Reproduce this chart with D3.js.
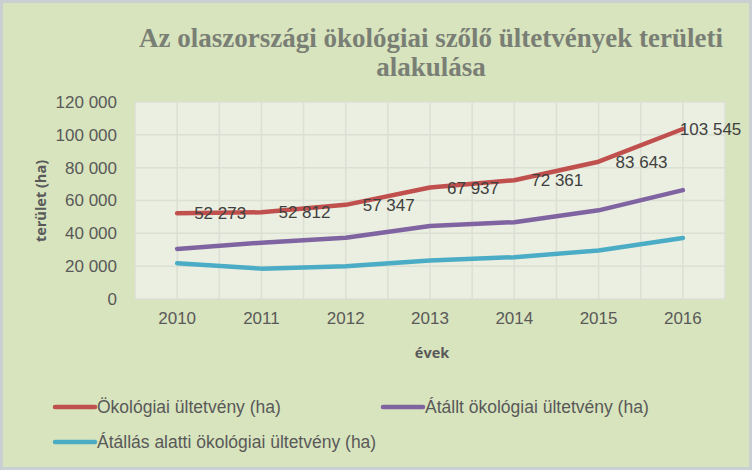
<!DOCTYPE html>
<html><head><meta charset="utf-8">
<script src="https://cdn.jsdelivr.net/npm/d3@7"></script>
<style>
html,body{margin:0;padding:0;background:#fff;}
svg{display:block;}
</style></head>
<body>
<script>
const years = ["2010","2011","2012","2013","2014","2015","2016"];
const seriesNames = ["Ökológiai ültetvény (ha)","Átállt ökológiai ültetvény (ha)","Átállás alatti ökológiai ültetvény (ha)"];
const organicTotal = [52273, 52812, 57347, 67937, 72361, 83643, 103545];
const converted = [30500, 34300, 37300, 44500, 46800, 54000, 66300];
const inConversion = [21800, 18500, 20000, 23400, 25500, 29600, 37200];
const yTicks = [0, 20000, 40000, 60000, 80000, 100000, 120000];
const colors = ["#c0504d", "#8064a2", "#4bacc6"];
const titleLines = ["Az olaszországi ökológiai szőlő ültetvények területi", "alakulása"];
const yTitle = "terület (ha)";
const xTitle = "évek";

const W = 752, H = 470;
const svg = d3.select("body").append("svg").attr("width", W).attr("height", H);

// outer background & border
svg.append("rect").attr("x",0).attr("y",0).attr("width",W).attr("height",H).attr("fill","#c9cfd2");
svg.append("rect").attr("x",3).attr("y",3).attr("width",W-6).attr("height",H-6).attr("fill","#d8e4bd");

const plot = {l:135, r:725, t:102, b:299};
svg.append("rect").attr("x",plot.l).attr("y",plot.t).attr("width",plot.r-plot.l).attr("height",plot.b-plot.t).attr("fill","#ebefe1");

const x = d3.scaleBand().domain(years).range([plot.l, plot.r]);
const y = d3.scaleLinear().domain([0,120000]).range([plot.b, plot.t]);
const cx = d => x(d) + x.bandwidth()/2;

const fmtTick = v => d3.format(",")(v).replace(/,/g, " ");

// gridlines
const gx = [];
years.forEach(yr => { gx.push(x(yr)); gx.push(cx(yr)); });
gx.push(plot.r);
svg.append("g").selectAll("line").data(gx).join("line")
  .attr("x1",d=>d).attr("x2",d=>d).attr("y1",plot.t).attr("y2",plot.b)
  .attr("stroke","#dcdfd3").attr("stroke-width",1.5);
svg.append("g").selectAll("line").data(yTicks).join("line")
  .attr("x1",plot.l).attr("x2",plot.r).attr("y1",d=>y(d)).attr("y2",d=>y(d))
  .attr("stroke","#dcdfd3").attr("stroke-width",1.5);

// axes
const font = "'Liberation Sans', Arial, sans-serif";
const yAxis = svg.append("g").attr("transform",`translate(${plot.l},0)`)
  .call(d3.axisLeft(y).tickValues(yTicks).tickFormat(fmtTick).tickSize(0).tickPadding(18));
yAxis.select(".domain").remove();
yAxis.selectAll("text").attr("font-family",font).attr("font-size",17).attr("fill","#595959");

const xAxis = svg.append("g").attr("transform",`translate(0,${plot.b})`)
  .call(d3.axisBottom(x).tickSize(0).tickPadding(13));
xAxis.select(".domain").remove();
xAxis.selectAll("text").attr("font-family",font).attr("font-size",17).attr("fill","#595959");

// lines
const data = [organicTotal, converted, inConversion];
const line = d3.line().x((d,i)=>cx(years[i])).y(d=>y(d)).curve(d3.curveLinear);
data.forEach((s,k)=>{
  svg.append("path").datum(s).attr("d",line).attr("fill","none")
    .attr("stroke",colors[k]).attr("stroke-width",4.5).attr("stroke-linejoin","round").attr("stroke-linecap","round");
});

// data labels for total
svg.append("g").selectAll("text").data(organicTotal).join("text")
  .attr("x",(d,i)=> i===years.length-1 ? cx(years[i]) - 3 : cx(years[i]) + 17)
  .attr("y",d=>y(d))
  .attr("dy","0.36em")
  .attr("font-family",font).attr("font-size",17).attr("fill","#404040")
  .text(d=>fmtTick(d));

// title
const tt = svg.append("g").selectAll("text").data(titleLines).join("text")
  .attr("x",431).attr("y",(d,i)=>47 + i*29)
  .attr("text-anchor","middle")
  .attr("font-family","'Liberation Serif', 'Times New Roman', serif").attr("font-weight","bold")
  .attr("font-size",27).attr("fill","#7a7f76")
  .text(d=>d);
// fit first line width to ~584px
const w0 = tt.nodes()[0].getComputedTextLength();
if (w0 > 0) { tt.attr("font-size", 27 * 584 / w0); }

// axis titles
svg.append("text").attr("transform","translate(46,201) rotate(-90)")
  .attr("text-anchor","middle").attr("font-family","'Open Sans', sans-serif").attr("font-weight","bold")
  .attr("font-size",14.5).attr("fill","#595959").text(yTitle);
svg.append("text").attr("x",432).attr("y",358)
  .attr("text-anchor","middle").attr("font-family","'Open Sans', sans-serif").attr("font-weight","bold")
  .attr("font-size",14.5).attr("fill","#595959").text(xTitle);

// legend
const legendPos = [{x:53,y:407},{x:381,y:407},{x:53,y:442}];
const lg = svg.append("g").selectAll("g").data(seriesNames).join("g")
  .attr("transform",(d,i)=>`translate(${legendPos[i].x},${legendPos[i].y})`);
lg.append("line").attr("x1",2).attr("x2",42).attr("y1",0).attr("y2",0)
  .attr("stroke",(d,i)=>colors[i]).attr("stroke-width",4.5).attr("stroke-linecap","round");
lg.append("text").attr("x",44).attr("y",0).attr("dy","0.36em")
  .attr("font-family",font).attr("font-size",17.5).attr("fill","#595959")
  .text(d=>d);
</script>
</body></html>
